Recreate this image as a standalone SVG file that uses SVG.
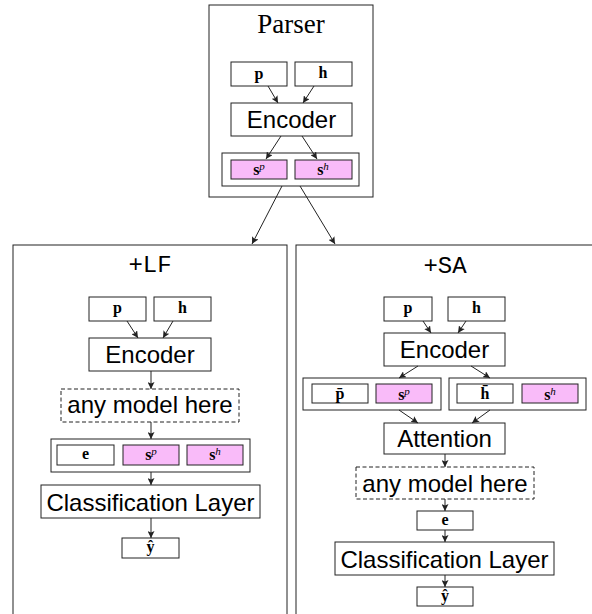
<svg xmlns="http://www.w3.org/2000/svg" width="592" height="614" viewBox="0 0 592 614">
<style>
.b{fill:#fff;stroke:#222;stroke-width:1}
.pk{fill:#f9bbf9;stroke:#222;stroke-width:1}
.d{fill:#fff;stroke:#222;stroke-width:1;stroke-dasharray:4,2.5}
.sans{font-family:"Liberation Sans",Arial,sans-serif;font-size:24px;fill:#000;text-anchor:middle}
.m{font-family:"Liberation Serif","Times New Roman",serif;font-size:16px;font-weight:bold;fill:#000;text-anchor:middle}
.sup{font-style:italic;font-weight:normal;font-size:11px}
.tt{font-family:"Liberation Mono","DejaVu Sans Mono","Courier New",monospace;font-size:24px;fill:#000;text-anchor:middle}
.ser{font-family:"Liberation Serif","Times New Roman",serif;font-size:27px;fill:#000;text-anchor:middle}
.c line{stroke:#222;stroke-width:1;marker-end:url(#ah)}
</style>
<defs>
<marker id="ah" viewBox="0 0 10 10" refX="10" refY="5" markerWidth="7" markerHeight="7" markerUnits="userSpaceOnUse" orient="auto">
<path d="M0,0 L10,5 L0,10 L2,5 z" fill="#222"/>
</marker>
</defs>

<g id="parser">
<rect class="b" x="209" y="5" width="164" height="192"/>
<text class="ser" x="291" y="33">Parser</text>
<g id="parser-p"><rect class="b" x="231" y="62" width="56" height="24"/><text class="m" x="259" y="79">p</text></g>
<g id="parser-h"><rect class="b" x="295" y="62" width="57" height="24"/><text class="m" x="323" y="78">h</text></g>
<g id="parser-encoder"><rect class="b" x="231" y="103" width="121" height="33"/><text class="sans" x="291.5" y="128">Encoder</text></g>
<g id="parser-s"><rect class="b" x="222" y="153" width="137" height="33"/>
<rect class="pk" x="231" y="160" width="56" height="19"/><text class="m" x="259" y="175">s<tspan class="sup" dy="-5">p</tspan></text>
<rect class="pk" x="295" y="160" width="57" height="19"/><text class="m" x="323" y="175">s<tspan class="sup" dy="-5">h</tspan></text>
</g>
</g>

<g id="lf">
<rect class="b" x="13" y="245" width="274" height="380"/>
<text class="tt" x="150" y="272">+LF</text>
<g id="lf-p"><rect class="b" x="89" y="297" width="57" height="24"/><text class="m" x="117.5" y="313">p</text></g>
<g id="lf-h"><rect class="b" x="154" y="297" width="57" height="24"/><text class="m" x="182.5" y="313">h</text></g>
<g id="lf-encoder"><rect class="b" x="89" y="338" width="122" height="33"/><text class="sans" x="150" y="363">Encoder</text></g>
<g id="lf-any"><rect class="d" x="61" y="389" width="178" height="33"/><text class="sans" x="150" y="413">any model here</text></g>
<g id="lf-concat"><rect class="b" x="51" y="439" width="199" height="33"/>
<rect class="b" x="57" y="445" width="57" height="20"/><text class="m" x="85.5" y="459">e</text>
<rect class="pk" x="123" y="445" width="56" height="20"/><text class="m" x="151" y="460">s<tspan class="sup" dy="-5">p</tspan></text>
<rect class="pk" x="187" y="445" width="56" height="20"/><text class="m" x="215" y="460">s<tspan class="sup" dy="-5">h</tspan></text>
</g>
<g id="lf-class"><rect class="b" x="41" y="485" width="219" height="33"/><text class="sans" x="150.5" y="511">Classification Layer</text></g>
<g id="lf-y"><rect class="b" x="122" y="538" width="57" height="20"/><text class="m" x="150.5" y="552">ŷ</text></g>
</g>

<g id="sa">
<rect class="b" x="296" y="245" width="320" height="380"/>
<text class="tt" x="445" y="273">+SA</text>
<g id="sa-p"><rect class="b" x="384" y="297" width="48" height="24"/><text class="m" x="408" y="313">p</text></g>
<g id="sa-h"><rect class="b" x="448" y="297" width="57" height="24"/><text class="m" x="476.5" y="313">h</text></g>
<g id="sa-encoder"><rect class="b" x="384" y="333" width="121" height="33"/><text class="sans" x="444.5" y="358">Encoder</text></g>
<g id="sa-left"><rect class="b" x="303" y="378" width="138" height="32"/>
<rect class="b" x="312" y="384" width="56" height="19"/><text class="m" x="340" y="399">p̄</text>
<rect class="pk" x="376" y="384" width="56" height="19"/><text class="m" x="404" y="400">s<tspan class="sup" dy="-5">p</tspan></text>
</g>
<g id="sa-right"><rect class="b" x="449" y="378" width="137" height="32"/>
<rect class="b" x="457" y="384" width="56" height="19"/><text class="m" x="485" y="399">h̄</text>
<rect class="pk" x="522" y="384" width="56" height="19"/><text class="m" x="550" y="400">s<tspan class="sup" dy="-5">h</tspan></text>
</g>
<g id="sa-attention"><rect class="b" x="384" y="423" width="121" height="31"/><text class="sans" x="444.5" y="447">Attention</text></g>
<g id="sa-any"><rect class="d" x="356" y="467" width="178" height="32"/><text class="sans" x="445" y="492">any model here</text></g>
<g id="sa-e"><rect class="b" x="417" y="511" width="56" height="19"/><text class="m" x="445" y="525">e</text></g>
<g id="sa-class"><rect class="b" x="335" y="542" width="219" height="33"/><text class="sans" x="444.5" y="568">Classification Layer</text></g>
<g id="sa-y"><rect class="b" x="417" y="587" width="56" height="19"/><text class="m" x="445" y="601">ŷ</text></g>
</g>

<g id="connectors" class="c">
<line x1="268" y1="86" x2="278" y2="103"/>
<line x1="314" y1="86" x2="303" y2="103"/>
<line x1="281" y1="136" x2="266" y2="159"/>
<line x1="302" y1="136" x2="317" y2="159"/>
<line x1="282" y1="186" x2="252" y2="244"/>
<line x1="300" y1="186" x2="335" y2="244"/>
<line x1="127" y1="321" x2="138" y2="338"/>
<line x1="173" y1="321" x2="163" y2="338"/>
<line x1="151" y1="371" x2="151" y2="389"/>
<line x1="151" y1="422" x2="151" y2="439"/>
<line x1="151" y1="472" x2="151" y2="485"/>
<line x1="151" y1="518" x2="151" y2="538"/>
<line x1="423" y1="321" x2="431" y2="333"/>
<line x1="466" y1="321" x2="458" y2="333"/>
<line x1="418" y1="366" x2="399" y2="378"/>
<line x1="471" y1="366" x2="490" y2="378"/>
<line x1="399" y1="410" x2="418" y2="423"/>
<line x1="490" y1="410" x2="472" y2="423"/>
<line x1="445" y1="454" x2="445" y2="467"/>
<line x1="445" y1="499" x2="445" y2="511"/>
<line x1="445" y1="530" x2="445" y2="542"/>
<line x1="445" y1="575" x2="445" y2="587"/>
</g>
</svg>
